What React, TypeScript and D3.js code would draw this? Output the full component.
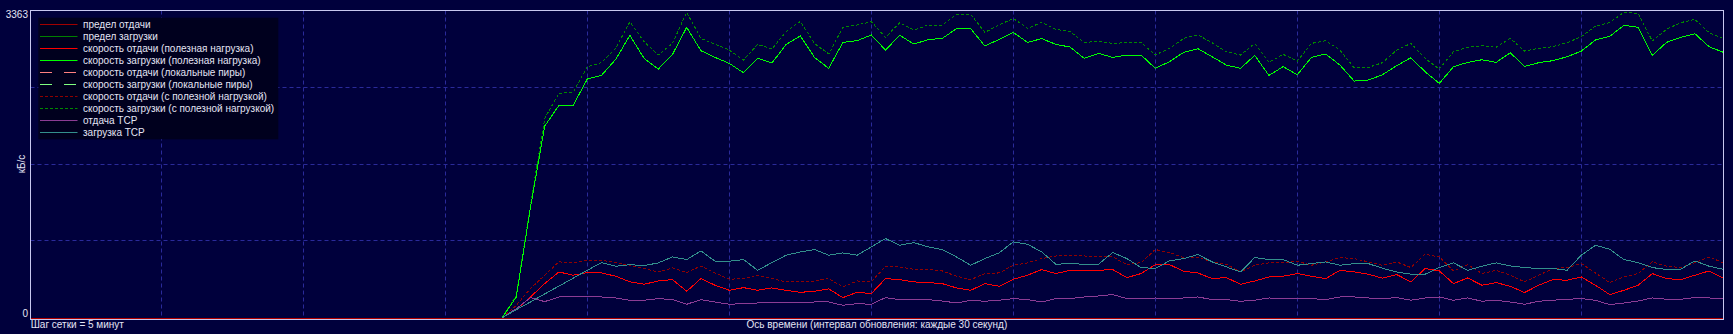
import React from 'react';
import * as d3 from 'd3';

const W = 1733;
const H = 334;
const Y_MAX = 3363;

const legendLabels = [
  'предел отдачи',
  'предел загрузки',
  'скорость отдачи (полезная нагрузка)',
  'скорость загрузки (полезная нагрузка)',
  'скорость отдачи (локальные пиры)',
  'скорость загрузки (локальные пиры)',
  'скорость отдачи (с полезной нагрузкой)',
  'скорость загрузки (с полезной нагрузкой)',
  'отдача TCP',
  'загрузка TCP',
];
const legendColors = ['#a00000', '#008000', '#ff0000', '#00ff00', '#ff8080', '#80ff80', '#900000', '#008800', '#8c3c94', '#33908c'];
const legendDash = ['', '', '', '', '12,12', '12,12', '3,2', '3,2', '', ''];

const yTickLabels = ['0', '3363'];
const yAxisTitle = 'кБ/с';
const gridStepLabel = 'Шаг сетки = 5 минут';
const xAxisTitle = 'Ось времени (интервал обновления: каждые 30 секунд)';

// kB/s, one value per 30 s, oldest first (87 samples)
const downloadPayload = [
  0, 228, 1210, 2098, 2324, 2324, 2613, 2653, 2828, 3091,
  2839, 2722, 2883, 3179, 2923, 2850, 2784, 2682, 2839, 2788,
  2992, 3084, 2850, 2730, 3014, 3033, 3095, 2930, 3091, 2996,
  3044, 3058, 3164, 3164, 2974, 3047, 3124, 3014, 3055, 2992,
  2963, 2839, 2894, 2850, 2876, 2876, 2730, 2803, 2905, 2945,
  2857, 2766, 2730, 2872, 2653, 2748, 2660, 2850, 2887, 2766,
  2591, 2602, 2660, 2759, 2846, 2693, 2565, 2748, 2795, 2824,
  2795, 2901, 2751, 2792, 2814, 2857, 2919, 3040, 3080, 3201,
  3179, 2872, 3014, 3069, 3109, 2967, 2905,
];
const downloadTotal = [
  0, 245, 1235, 2182, 2456, 2467, 2748, 2792, 2949, 3237,
  3022, 2876, 3003, 3343, 3058, 2992, 2930, 2821, 2992, 2941,
  3131, 3244, 3003, 2887, 3179, 3204, 3241, 3069, 3230, 3149,
  3204, 3204, 3321, 3321, 3124, 3204, 3277, 3168, 3233, 3157,
  3131, 3011, 3029, 3003, 3011, 3011, 2876, 2949, 3058, 3095,
  3011, 2912, 2876, 3003, 2795, 2883, 2810, 3003, 3033, 2930,
  2737, 2740, 2792, 2930, 3003, 2839, 2722, 2912, 2960, 2978,
  2960, 3058, 2919, 2949, 2967, 3011, 3076, 3193, 3230, 3343,
  3332, 3029, 3157, 3230, 3266, 3120, 3058,
];
const uploadPayload = [
  0, 90, 228, 374, 502, 466, 495, 491, 455, 393,
  367, 403, 418, 290, 429, 356, 301, 330, 301, 327,
  301, 279, 290, 316, 221, 279, 265, 429, 418, 393,
  385, 374, 327, 301, 374, 345, 422, 466, 528, 484,
  520, 520, 520, 528, 440, 484, 582, 582, 509, 491,
  429, 440, 367, 403, 447, 455, 484, 455, 429, 520,
  502, 477, 433, 473, 393, 539, 513, 374, 436, 356,
  385, 345, 276, 356, 418, 411, 447, 356, 254, 301,
  356, 484, 429, 418, 466, 513, 436,
];
const uploadTotal = [
  0, 137, 320, 466, 612, 604, 630, 630, 604, 575,
  539, 502, 546, 495, 568, 491, 422, 429, 466, 429,
  393, 393, 403, 429, 338, 403, 393, 564, 557, 531,
  531, 513, 455, 418, 484, 491, 575, 601, 648, 677,
  677, 677, 666, 666, 582, 604, 747, 714, 659, 659,
  612, 586, 502, 575, 601, 604, 619, 575, 612, 659,
  648, 612, 575, 612, 550, 696, 666, 513, 582, 484,
  520, 466, 393, 466, 539, 550, 593, 491, 385, 447,
  484, 612, 564, 550, 604, 666, 601,
];
const uploadTCP = [
  0, 100, 221, 177, 228, 228, 232, 228, 217, 192,
  192, 210, 199, 148, 199, 173, 148, 155, 162, 162,
  162, 162, 173, 173, 137, 155, 148, 221, 199, 199,
  199, 184, 162, 192, 181, 192, 210, 199, 173, 210,
  210, 228, 239, 254, 210, 210, 217, 210, 217, 228,
  199, 199, 181, 192, 217, 210, 210, 210, 199, 228,
  228, 217, 210, 221, 192, 217, 228, 192, 217, 181,
  192, 173, 148, 181, 192, 203, 210, 192, 144, 162,
  184, 217, 203, 203, 221, 217, 210,
];
const downloadTCP = [
  0, 89, 173, 261, 347, 433, 520, 604, 564, 582,
  571, 601, 666, 637, 732, 619, 619, 637, 520, 604,
  685, 721, 747, 685, 710, 685, 776, 867, 794, 823,
  776, 747, 666, 575, 648, 710, 831, 805, 721, 586,
  593, 586, 586, 714, 648, 550, 539, 623, 648, 692,
  612, 557, 502, 659, 637, 637, 575, 593, 612, 575,
  593, 593, 542, 502, 477, 477, 550, 601, 520, 564,
  601, 568, 550, 539, 539, 520, 685, 794, 750, 637,
  604, 550, 528, 531, 623, 564, 531,
];

const series = [
  { values: downloadTotal, color: '#008800', dash: '3,2' },
  { values: uploadTotal, color: '#900000', dash: '3,2' },
  { values: downloadPayload, color: '#00ff00', dash: '' },
  { values: uploadPayload, color: '#ff0000', dash: '' },
  { values: uploadTCP, color: '#8c3c94', dash: '' },
  { values: downloadTCP, color: '#33908c', dash: '' },
];

const FONT = "'Liberation Sans', Arial, sans-serif";
const TEXT = '#e4e4f4';

export default function App() {
  const left = 30.5;
  const right = 1723.3;
  const top = 10.5;
  const zeroY = 317.8;
  const step = 14.2; // px per 30 s sample
  const x = d3.scaleLinear().domain([-(right - left) / step, 0]).range([left, right]);
  const y = d3.scaleLinear().domain([0, Y_MAX]).range([zeroY, top]);

  const hGrid = [1, 2, 3].map((k) => Math.floor(y((Y_MAX * k) / 4)) + 0.5);
  const vGrid: number[] = [];
  for (let t = -10; x(t) > left + 2; t -= 10) vGrid.push(Math.floor(x(t)) + 0.5);

  const mkLine = (vals: number[]) =>
    d3
      .line<number>()
      .x((_, i) => x(i - (vals.length - 1)))
      .y((d) => y(d))(vals) || '';

  return (
    <svg width={W} height={H} style={{ position: 'fixed', left: 0, top: 0, display: 'block' }}>
      <rect x={0} y={0} width={W} height={H} fill="#00003c" />
      {hGrid.map((gy, i) => (
        <line key={'h' + i} x1={left} x2={right} y1={gy} y2={gy} stroke="#2a2a9a" strokeDasharray="4,3" />
      ))}
      {vGrid.map((gx, i) => (
        <line key={'v' + i} x1={gx} x2={gx} y1={top} y2={319} stroke="#2a2a9a" strokeDasharray="4,3" />
      ))}
      <line x1={left} x2={right} y1={318.5} y2={318.5} stroke="#b00000" />
      {series.map((s, i) => (
        <path
          key={'s' + i}
          d={mkLine(s.values)}
          fill="none"
          stroke={s.color}
          strokeWidth={1}
          strokeDasharray={s.dash || undefined}
          shapeRendering="crispEdges"
        />
      ))}
      <rect x={left} y={top} width={1693} height={309} fill="none" stroke="#c8c8f0" />
      <text x={28} y={18.3} fill={TEXT} fontFamily={FONT} fontSize={10} textAnchor="end">
        {yTickLabels[1]}
      </text>
      <text x={28} y={316.7} fill={TEXT} fontFamily={FONT} fontSize={10} textAnchor="end">
        {yTickLabels[0]}
      </text>
      <text
        transform={`translate(25,164) rotate(-90)`}
        fill={TEXT}
        fontFamily={FONT}
        fontSize={10}
        textAnchor="middle"
      >
        {yAxisTitle}
      </text>
      <text x={30.7} y={328} fill={TEXT} fontFamily={FONT} fontSize={10}>
        {gridStepLabel}
      </text>
      <text x={(left + right) / 2} y={328} fill={TEXT} fontFamily={FONT} fontSize={10} textAnchor="middle">
        {xAxisTitle}
      </text>
      <rect x={38.3} y={17.7} width={240} height={121.6} fill="#00001e" />
      {legendLabels.map((lab, i) => (
        <g key={'l' + i}>
          <line
            x1={40}
            x2={77.5}
            y1={24.5 + 12 * i}
            y2={24.5 + 12 * i}
            stroke={legendColors[i]}
            strokeWidth={1}
            strokeDasharray={legendDash[i] || undefined}
          />
          <text x={83} y={28 + 12 * i} fill={TEXT} fontFamily={FONT} fontSize={10}>
            {lab}
          </text>
        </g>
      ))}
    </svg>
  );
}
